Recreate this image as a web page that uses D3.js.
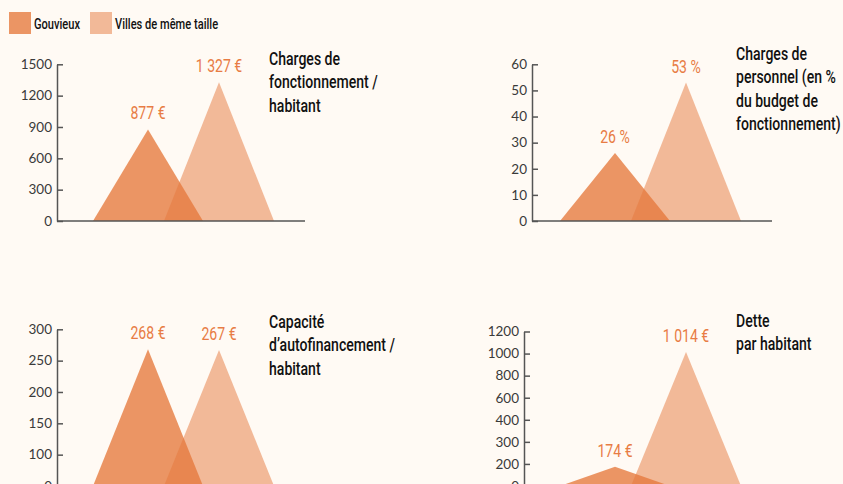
<!DOCTYPE html>
<html>
<head>
<meta charset="utf-8">
<script src="https://cdn.jsdelivr.net/npm/d3@7"></script>
<style>
  body { margin: 0; background: #fffaf4; }
  svg { display: block; }
</style>
</head>
<body>
<div id="chart"></div>
<script>
// data
const series = ["Gouvieux", "Villes de même taille"];
const charges = [877, 1327];
const personnel = [26, 53];
const capacite = [268, 267];
const dette = [174, 1014];

const ticksCharges = [0, 300, 600, 900, 1200, 1500];
const ticksPersonnel = [0, 10, 20, 30, 40, 50, 60];
const ticksCapacite = [0, 100, 150, 200, 250, 300];
const ticksDette = [0, 200, 300, 400, 600, 800, 1000, 1200];

const titleCharges = ["Charges de", "fonctionnement /", "habitant"];
const titlePersonnel = ["Charges de", "personnel (en %", "du budget de", "fonctionnement)"];
const titleCapacite = ["Capacité", "d’autofinancement /", "habitant"];
const titleDette = ["Dette", "par habitant"];

const width = 843, height = 484;
const colors = ["#e5783b", "#e5783b"];
const opac = [0.78, 0.5];
// no condensed face installed: squeeze Roboto horizontally
const narrow = "Roboto, 'Noto Sans', sans-serif";
const squeeze = 0.74;

const loc = d3.formatLocale({decimal: ",", thousands: " ", grouping: [3], currency: ["", " €"]});
const euro = d => loc.format(",")(d) + " €";
const pct = d => d + " %";

const panels = [
  {values: charges, ticks: ticksCharges, title: titleCharges, fmt: euro, cx: 148, axisX: 57, right: 305, bottom: 221, top: 64.3, titleX: 269, titleY: 65},
  {values: personnel, ticks: ticksPersonnel, title: titlePersonnel, fmt: pct, cx: 615, axisX: 532, right: 772, bottom: 221, top: 64.3, titleX: 736, titleY: 60},
  {values: capacite, ticks: ticksCapacite, title: titleCapacite, fmt: euro, cx: 148, axisX: 57, right: 305, bottom: 486, top: 329.3, titleX: 269, titleY: 328},
  {values: dette, ticks: ticksDette, title: titleDette, fmt: euro, cx: 615, axisX: 524, right: 772, bottom: 486, top: 331.5, titleX: 736, titleY: 327}
];

const svg = d3.select("#chart").append("svg").attr("width", width).attr("height", height);
svg.append("rect").attr("width", width).attr("height", height).attr("fill", "#fffaf4");

const at = (x, y) => `translate(${x},${y}) scale(${squeeze},1)`;

// legend
const leg = svg.append("g").attr("transform", "translate(9,12)");
const legX = [0, 81];
series.forEach((s, i) => {
  leg.append("rect").attr("x", legX[i]).attr("y", 0).attr("width", 22).attr("height", 22)
    .attr("fill", colors[i]).attr("fill-opacity", opac[i]);
  leg.append("text").attr("transform", at(legX[i] + 25, 17)).text(s)
    .style("font-family", narrow).style("font-size", "15px").style("font-weight", 500).attr("fill", "#111");
});

panels.forEach(p => {
  const g = svg.append("g");
  // evenly spaced ticks, as in the original
  const step = (p.bottom - p.top) / (p.ticks.length - 1);
  const y = d3.scaleLinear().domain(p.ticks).range(p.ticks.map((d, i) => p.bottom - i * step));
  const x = d3.scalePoint().domain(series).range([p.cx, p.cx + 71]);
  const half = 55;

  const line = d3.line().x(d => d[0]).y(d => y(d[1]));
  series.forEach((s, i) => {
    const v = p.values[i];
    g.append("path")
      .attr("d", line([[x(s) - half, 0], [x(s), v], [x(s) + half, 0]]) + "Z")
      .attr("fill", colors[i]).attr("fill-opacity", opac[i]);
  });

  g.selectAll(".val").data(series).join("text")
    .attr("transform", (s, i) => at(x(s), y(p.values[i]) - 10))
    .attr("text-anchor", "middle")
    .style("font-family", narrow).style("font-size", "19px")
    .attr("fill", "#e87c44")
    .text((s, i) => p.fmt(p.values[i]));

  const ax = g.append("g").attr("transform", `translate(${p.axisX},0)`)
    .call(d3.axisLeft(y).tickValues(p.ticks).tickSize(-6).tickSizeOuter(0).tickPadding(5).tickFormat(d => d));
  ax.select(".domain").attr("stroke", "#555").attr("stroke-width", 1.5);
  ax.selectAll(".tick line").attr("stroke", "#555").attr("stroke-width", 1.5);
  ax.selectAll(".tick text").style("font-family", "Lato, 'Open Sans', sans-serif").style("font-size", "13.5px").attr("fill", "#3a3a3a");

  g.append("line").attr("x1", p.axisX).attr("x2", p.right).attr("y1", y(0)).attr("y2", y(0))
    .attr("stroke", "#555").attr("stroke-width", 1.5);

  g.append("text").attr("transform", at(p.titleX, p.titleY))
    .style("font-family", narrow).style("font-size", "19px").style("font-weight", 500).attr("fill", "#111")
    .selectAll("tspan").data(p.title).join("tspan")
    .attr("x", 0).attr("dy", (d, i) => i ? 23.5 : 0).text(d => d);
});
</script>
</body>
</html>
